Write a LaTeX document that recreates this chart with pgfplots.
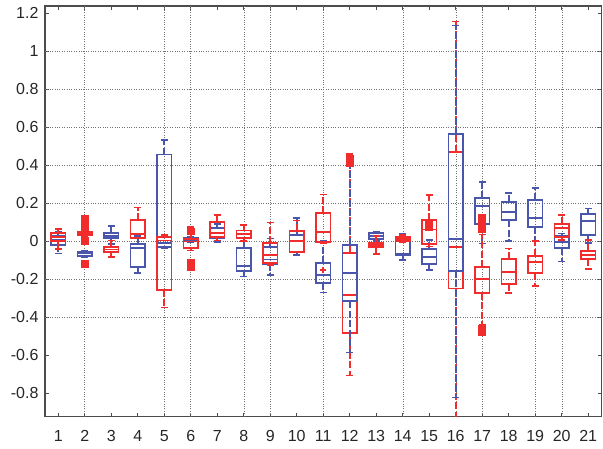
\documentclass[border=0pt]{standalone}
\usepackage{fontspec}
\setmainfont{Liberation Sans}
\usepackage{pgfplots}
\pgfplotsset{compat=1.18}
\usepgfplotslibrary{statistics}
\definecolor{bl}{HTML}{4A56AC}
\definecolor{rd}{HTML}{F02C2C}
\pgfplotsset{
 bb/.style={bl, line width=1.8pt, mark=square*, mark size=3pt, mark options={solid, fill=bl}},
 rb/.style={rd, line width=1.8pt, mark=square*, mark size=3pt, mark options={solid, fill=rd}},
}
\begin{document}
\begin{tikzpicture}
\begin{axis}[
 scale only axis, width=556.5pt, height=410.7pt,
 xmin=0.5, xmax=21.5, ymin=-0.925, ymax=1.237,
 xtick={1,2,3,4,5,6,7,8,9,10,11,12,13,14,15,16,17,18,19,20,21},
 xticklabels={1,2,3,4,5,6,7,8,9,10,11,12,13,14,15,16,17,18,19,20,21},
 ytick={-0.8,-0.6,-0.4,-0.2,0,0.2,0.4,0.6,0.8,1,1.2},
 yticklabels={-0.8,-0.6,-0.4,-0.2,0,0.2,0.4,0.6,0.8,1,1.2},
 tick align=inside, major tick length=4pt,
 tick style={color=black!70, line width=0.8pt},
 axis line style={color=black!70, line width=1.2pt},
 ticklabel style={font=\fontsize{16}{18}\selectfont, text=black!85},
 xticklabel style={yshift=-10pt},
 yticklabel style={xshift=-3pt},
 /pgf/number format/assume math mode=true,
 extra x ticks={2,5,6,8,9,11,14,16,17,19,20}, extra x tick labels={},
 extra y ticks={-0.4,-0.2,0,0.2,0.4,0.6,0.8,1}, extra y tick labels={},
 extra tick style={grid=major, major tick length=0pt},
 grid style={black!55, line width=0.5pt, dash pattern=on 1pt off 1.4pt},
 boxplot/draw direction=y,
 boxplot/box extend=0.55, boxplot/whisker extend=0.25,
 boxplot/every box/.style={line width=1.8pt},
 boxplot/every median/.style={line width=1.8pt},
 boxplot/every whisker/.style={line width=1.6pt, dash pattern=on 7pt off 2.5pt},
]
% ---- blue series: lower whisker, lower quartile, median, upper quartile, upper whisker
\addplot[bb, boxplot prepared={draw position=1, lower whisker=-0.065, lower quartile=-0.021, median=0.005, upper quartile=0.028, upper whisker=0.046}] coordinates {};
\addplot[bb, boxplot prepared={draw position=2, lower whisker=-0.085, lower quartile=-0.079, median=-0.066, upper quartile=-0.056, upper whisker=-0.05}] coordinates {};
\addplot[bb, boxplot prepared={draw position=3, lower whisker=-0.017, lower quartile=0.014, median=0.025, upper quartile=0.04, upper whisker=0.078}] coordinates {};
\addplot[bb, boxplot prepared={draw position=4, lower whisker=-0.167, lower quartile=-0.135, median=-0.038, upper quartile=-0.016, upper whisker=0.027}] coordinates {};
\addplot[bb, boxplot prepared={draw position=5, lower whisker=-0.04, lower quartile=-0.03, median=-0.012, upper quartile=0.455, upper whisker=0.53}] coordinates {};
\addplot[bb, boxplot prepared={draw position=6, lower whisker=-0.006, lower quartile=-0.003, median=0.005, upper quartile=0.018, upper whisker=0.022}] coordinates {};
\addplot[bb, boxplot prepared={draw position=7, lower whisker=-0.005, lower quartile=0.014, median=0.04, upper quartile=0.067, upper whisker=0.089}] coordinates {};
\addplot[bb, boxplot prepared={draw position=8, lower whisker=-0.188, lower quartile=-0.16, median=-0.132, upper quartile=-0.038, upper whisker=0.0}] coordinates {};
\addplot[bb, boxplot prepared={draw position=9, lower whisker=-0.179, lower quartile=-0.121, median=-0.097, upper quartile=-0.03, upper whisker=0.014}] coordinates {};
\addplot[bb, boxplot prepared={draw position=10, lower whisker=-0.074, lower quartile=-0.055, median=-0.003, upper quartile=0.032, upper whisker=0.12}] coordinates {};
\addplot[bb, boxplot prepared={draw position=11, lower whisker=-0.272, lower quartile=-0.222, median=-0.179, upper quartile=-0.118, upper whisker=0.0}] coordinates {};
\addplot[bb, boxplot prepared={draw position=13, lower whisker=0.0, lower quartile=0.01, median=0.025, upper quartile=0.043, upper whisker=0.047}] coordinates {};
\addplot[bb, boxplot prepared={draw position=14, lower whisker=-0.1, lower quartile=-0.075, median=-0.066, upper quartile=0.016, upper whisker=0.038}] coordinates {};
\addplot[bb, boxplot prepared={draw position=15, lower whisker=-0.153, lower quartile=-0.123, median=-0.086, upper quartile=-0.044, upper whisker=0.005}] coordinates {};
\addplot[bb, boxplot prepared={draw position=17, lower whisker=-0.014, lower quartile=0.089, median=0.184, upper quartile=0.225, upper whisker=0.309}] coordinates {};
\addplot[bb, boxplot prepared={draw position=18, lower whisker=0.0, lower quartile=0.11, median=0.154, upper quartile=0.204, upper whisker=0.251}] coordinates {};
\addplot[bb, boxplot prepared={draw position=19, lower whisker=0.0, lower quartile=0.075, median=0.119, upper quartile=0.216, upper whisker=0.28}] coordinates {};
\addplot[bb, boxplot prepared={draw position=20, lower whisker=-0.109, lower quartile=-0.038, median=-0.004, upper quartile=0.026, upper whisker=0.04}] coordinates {};
\addplot[bb, boxplot prepared={draw position=21, lower whisker=-0.012, lower quartile=0.032, median=0.105, upper quartile=0.142, upper whisker=0.17}] coordinates {};
% ---- red series
\addplot[rb, boxplot prepared={draw position=1, lower whisker=-0.042, lower quartile=0.0, median=0.02, upper quartile=0.04, upper whisker=0.063}] coordinates {};
\addplot[rb, boxplot prepared={draw position=2, lower whisker=0.025, lower quartile=0.032, median=0.04, upper quartile=0.047, upper whisker=0.05}] table[row sep=\\, y index=0] {data\\ 0.075\\ 0.09\\ 0.105\\ 0.118\\ 0.0\\ -0.122\\};
\addplot[rb, boxplot prepared={draw position=3, lower whisker=-0.083, lower quartile=-0.056, median=-0.045, upper quartile=-0.033, upper whisker=0.003}] coordinates {};
\addplot[rb, boxplot prepared={draw position=4, lower whisker=0.015, lower quartile=0.017, median=0.037, upper quartile=0.11, upper whisker=0.177}] coordinates {};
\addplot[rb, boxplot prepared={draw position=5, lower whisker=-0.35, lower quartile=-0.257, median=0.003, upper quartile=0.022, upper whisker=0.032}] coordinates {};
\addplot[rb, boxplot prepared={draw position=6, lower whisker=-0.05, lower quartile=-0.035, median=-0.003, upper quartile=0.012, upper whisker=0.075}] table[row sep=\\, y index=0] {data\\ 0.05\\ -0.115\\ -0.135\\};
\addplot[rb, boxplot prepared={draw position=7, lower whisker=0.003, lower quartile=0.02, median=0.04, upper quartile=0.102, upper whisker=0.137}] coordinates {};
\addplot[rb, boxplot prepared={draw position=8, lower whisker=0.0, lower quartile=0.014, median=0.037, upper quartile=0.055, upper whisker=0.083}] coordinates {};
\addplot[rb, boxplot prepared={draw position=9, lower whisker=-0.125, lower quartile=-0.117, median=-0.074, upper quartile=-0.012, upper whisker=0.098}] coordinates {};
\addplot[rb, boxplot prepared={draw position=10, lower whisker=-0.06, lower quartile=-0.056, median=0.0, upper quartile=0.052, upper whisker=0.107}] coordinates {};
\addplot[rb, mark=+, mark size=3pt, boxplot prepared={draw position=11, lower whisker=-0.01, lower quartile=-0.004, median=0.046, upper quartile=0.146, upper whisker=0.245}] table[row sep=\\, y index=0] {data\\ -0.153\\};
\addplot[rb, boxplot prepared={draw position=12, lower whisker=-0.709, lower quartile=-0.484, median=-0.283, upper quartile=-0.062, upper whisker=0.458}] table[row sep=\\, y index=0] {data\\ 0.41\\ 0.43\\};
\addplot[rb, boxplot prepared={draw position=13, lower whisker=-0.068, lower quartile=-0.033, median=-0.021, upper quartile=-0.009, upper whisker=0.025}] coordinates {};
\addplot[rb, boxplot prepared={draw position=14, lower whisker=-0.005, lower quartile=-0.002, median=0.01, upper quartile=0.023, upper whisker=0.033}] coordinates {};
\addplot[rb, boxplot prepared={draw position=15, lower whisker=-0.03, lower quartile=-0.017, median=0.06, upper quartile=0.11, upper whisker=0.242}] table[row sep=\\, y index=0] {data\\ 0.075\\ 0.092\\};
\addplot[rb, boxplot prepared={draw position=16, lower whisker=-1.2, lower quartile=-0.25, median=-0.033, upper quartile=0.47, upper whisker=1.156}] coordinates {};
\addplot[rb, boxplot prepared={draw position=17, lower whisker=-0.44, lower quartile=-0.272, median=-0.2, upper quartile=-0.138, upper whisker=0.035}] table[row sep=\\, y index=0] {data\\ 0.065\\ 0.085\\ 0.105\\ 0.12\\ -0.465\\ -0.48\\};
\addplot[rb, boxplot prepared={draw position=18, lower whisker=-0.275, lower quartile=-0.228, median=-0.165, upper quartile=-0.096, upper whisker=-0.04}] coordinates {};
\addplot[rb, boxplot prepared={draw position=19, lower whisker=-0.237, lower quartile=-0.17, median=-0.109, upper quartile=-0.077, upper whisker=0.0}] coordinates {};
\addplot[rb, boxplot prepared={draw position=20, lower whisker=0.005, lower quartile=0.023, median=0.067, upper quartile=0.089, upper whisker=0.137}] coordinates {};
\addplot[rb, boxplot prepared={draw position=21, lower whisker=-0.149, lower quartile=-0.096, median=-0.074, upper quartile=-0.053, upper whisker=0.005}] coordinates {};
% ---- blue boxes drawn on top of the red ones (categories 12 and 16)
\addplot[bb, boxplot prepared={draw position=12, lower whisker=-0.588, lower quartile=-0.316, median=-0.17, upper quartile=-0.021, upper whisker=0.40}] coordinates {};
\addplot[bb, boxplot prepared={draw position=16, lower whisker=-0.825, lower quartile=-0.156, median=0.009, upper quartile=0.563, upper whisker=1.135}] coordinates {};
\end{axis}
\pgfresetboundingbox
\path (current axis.south west) ++(-45pt,-32.3pt) rectangle ++(603pt,449pt);
\end{tikzpicture}
\end{document}
